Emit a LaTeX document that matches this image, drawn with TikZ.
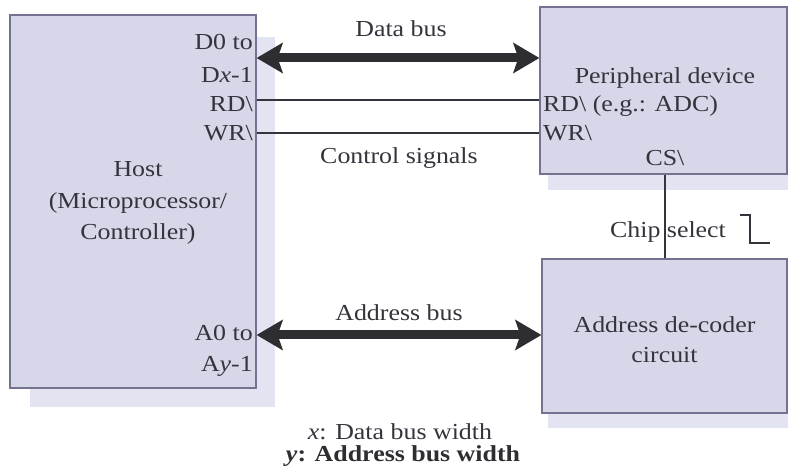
\documentclass[tikz,border=0pt]{standalone}
\usepackage{fontspec}
\setmainfont{Liberation Serif}[FakeStretch=1.13]
\usetikzlibrary{arrows.meta}

\definecolor{boxfill}{RGB}{214,216,234}
\definecolor{boxline}{RGB}{115,115,145}
\definecolor{shadefill}{RGB}{226,228,241}
\definecolor{txt}{RGB}{52,52,60}
\definecolor{busc}{RGB}{45,45,50}

\tikzset{
  unit/.style={draw=boxline, fill=boxfill, line width=1.2bp, inner sep=0pt},
  unitshadow/.style={fill=shadefill, draw=none},
  lbl/.style={text=txt, inner sep=0pt, font=\fontsize{23}{28}\selectfont},
  bus/.style={busc, line width=9bp,
    {Stealth[length=26bp,width=30bp,inset=5bp]}-{Stealth[length=26bp,width=30bp,inset=5bp]}},
  ctrl/.style={draw=txt, line width=2bp},
}

\begin{document}
\begin{tikzpicture}[x=1bp, y=-1bp]

\useasboundingbox (0,0) rectangle (792,468);

\path[unitshadow] (30,37) rectangle (275,407);
\path[unitshadow] (548,20) rectangle (788,190);
\path[unitshadow] (548,270) rectangle (788,428);

\node[unit, minimum width=246bp, minimum height=373bp] (host) at (133,201.5) {};

\node[unit, minimum width=247bp, minimum height=167bp] (per) at (663.5,90.5) {};

\node[unit, minimum width=245bp, minimum height=154bp] (dec) at (664.5,336) {};

\node[lbl, anchor=base east] (d0) at (253,50) {D0 to};
\node[lbl, anchor=base east] (dx) at (253,83) {D\textit{x}-1};
\node[lbl, anchor=base east] (rdh) at (253,112) {RD\textbackslash};
\node[lbl, anchor=base east] (wrh) at (253,141) {WR\textbackslash};

\node[lbl, align=center, font=\fontsize{23}{32}\selectfont] (hname) at (138,203)
  {Host\\(Microprocessor/\\Controller)};

\node[lbl, anchor=base east] (a0) at (253,341) {A0 to};
\node[lbl, anchor=base east] (ay) at (253,372) {A\textit{y}-1};

\node[lbl, anchor=base] (pname) at (665,84) {Peripheral device};
\node[lbl, anchor=base west] (rdp) at (543,112) {RD\textbackslash\ (e.g.: ADC)};
\node[lbl, anchor=base west] (wrp) at (543,141) {WR\textbackslash};
\node[lbl, anchor=base] (cs) at (665,166) {CS\textbackslash};

\node[lbl, align=center, font=\fontsize{23}{30}\selectfont] (dname) at (664.5,340)
  {Address de-coder\\circuit};

\node[lbl, anchor=base] (dbl) at (401,37) {Data bus};
\node[lbl, anchor=base] (csl) at (399,164) {Control signals};
\node[lbl, anchor=base] (abl) at (399,321) {Address bus};
\node[lbl, anchor=base] (chl) at (668,238) {Chip select};

\node[lbl, anchor=base] (fx) at (400,439) {\textit{x}: Data bus width};
\node[lbl, anchor=base, text=busc] (fy) at (403,461) {\textbf{\textit{y}: Address bus width}};

\coordinate (dbus) at (400,58);
\coordinate (rdl) at (400,100);
\coordinate (wrl) at (400,133);
\coordinate (abus) at (400,335);
\coordinate (stp) at (740,215);

\draw[bus] (host.east |- dbus) -- (per.west |- dbus);
\draw[ctrl] (host.east |- rdl) -- (per.west |- rdl);
\draw[ctrl] (host.east |- wrl) -- (per.west |- wrl);
\draw[bus] (host.east |- abus) -- (dec.west |- abus);

\draw[ctrl] (per.south -| cs) -- (dec.north -| cs);

\draw[txt, line width=1.2bp] (stp) -- ++(10,0) -- ++(0,28) -- ++(20,0);

\end{tikzpicture}
\end{document}
